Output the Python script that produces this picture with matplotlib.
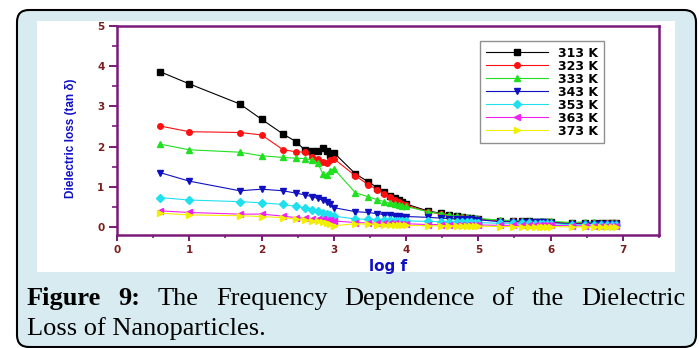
import matplotlib
matplotlib.use("Agg")
import matplotlib.pyplot as plt
from matplotlib.patches import FancyBboxPatch, Rectangle
from matplotlib.transforms import IdentityTransform
from matplotlib.ticker import MultipleLocator

# measured frequencies (log10 of f in Hz)
log_f = [0.6, 1.0, 1.7, 2.0, 2.3, 2.48, 2.6, 2.7, 2.78, 2.85, 2.9, 2.95, 3.0,
         3.3, 3.48, 3.6, 3.7, 3.78, 3.85, 3.9, 3.95, 4.0,
         4.3, 4.48, 4.6, 4.7, 4.78, 4.85, 4.9, 4.95, 5.0,
         5.3, 5.48, 5.6, 5.7, 5.78, 5.85, 5.9, 5.95, 6.0,
         6.3, 6.48, 6.6, 6.7, 6.78, 6.85, 6.9]

# tan delta for each temperature
tan_313 = [3.86, 3.56, 3.06, 2.68, 2.31, 2.12, 1.91, 1.90, 1.89, 1.96, 1.90, 1.78, 1.85,
           1.32, 1.12, 0.98, 0.86, 0.78, 0.71, 0.66, 0.61, 0.57,
           0.40, 0.34, 0.30, 0.27, 0.25, 0.23, 0.22, 0.21, 0.20,
           0.16, 0.15, 0.14, 0.14, 0.13, 0.13, 0.12, 0.12, 0.12,
           0.09, 0.10, 0.10, 0.09, 0.09, 0.10, 0.10]
tan_323 = [2.51, 2.37, 2.35, 2.29, 1.92, 1.87, 1.86, 1.74, 1.70, 1.62, 1.60, 1.66, 1.70,
           1.27, 1.05, 0.93, 0.82, 0.74, 0.67, 0.62, 0.58, 0.54,
           0.38, 0.32, 0.28, 0.26, 0.24, 0.22, 0.21, 0.20, 0.19,
           0.15, 0.14, 0.14, 0.13, 0.13, 0.12, 0.12, 0.11, 0.11,
           0.09, 0.09, 0.09, 0.08, 0.09, 0.09, 0.09]
tan_333 = [2.06, 1.92, 1.86, 1.77, 1.73, 1.71, 1.70, 1.67, 1.58, 1.32, 1.30, 1.40, 1.45,
           0.85, 0.75, 0.68, 0.63, 0.59, 0.56, 0.54, 0.52, 0.51,
           0.38, 0.33, 0.30, 0.27, 0.26, 0.24, 0.23, 0.22, 0.21,
           0.17, 0.16, 0.16, 0.15, 0.15, 0.15, 0.14, 0.14, 0.14,
           0.11, 0.13, 0.12, 0.11, 0.11, 0.11, 0.11]
tan_343 = [1.35, 1.14, 0.90, 0.94, 0.90, 0.84, 0.80, 0.75, 0.71, 0.66, 0.62, 0.58, 0.48,
           0.38, 0.36, 0.33, 0.31, 0.29, 0.28, 0.27, 0.26, 0.26,
           0.24, 0.22, 0.21, 0.20, 0.20, 0.19, 0.19, 0.18, 0.18,
           0.13, 0.13, 0.12, 0.12, 0.12, 0.12, 0.12, 0.11, 0.11,
           0.07, 0.08, 0.08, 0.08, 0.08, 0.08, 0.08]
tan_353 = [0.73, 0.67, 0.63, 0.60, 0.56, 0.51, 0.47, 0.43, 0.39, 0.35, 0.32, 0.29, 0.27,
           0.20, 0.19, 0.18, 0.17, 0.17, 0.16, 0.16, 0.15, 0.15,
           0.14, 0.13, 0.13, 0.12, 0.12, 0.12, 0.12, 0.11, 0.11,
           0.09, 0.09, 0.09, 0.09, 0.08, 0.08, 0.08, 0.08, 0.08,
           0.06, 0.06, 0.06, 0.06, 0.06, 0.06, 0.06]
tan_363 = [0.40, 0.36, 0.32, 0.32, 0.27, 0.23, 0.22, 0.21, 0.20, 0.19, 0.18, 0.17, 0.15,
           0.11, 0.10, 0.10, 0.09, 0.09, 0.09, 0.08, 0.08, 0.08,
           0.06, 0.06, 0.06, 0.05, 0.05, 0.05, 0.05, 0.05, 0.05,
           0.04, 0.04, 0.04, 0.04, 0.04, 0.04, 0.04, 0.04, 0.04,
           0.03, 0.03, 0.03, 0.03, 0.03, 0.03, 0.03]
tan_373 = [0.34, 0.30, 0.28, 0.26, 0.23, 0.19, 0.17, 0.16, 0.14, 0.12, 0.10, 0.07, 0.03,
           0.08, 0.07, 0.06, 0.06, 0.05, 0.05, 0.05, 0.05, 0.04,
           0.03, 0.03, 0.03, 0.03, 0.02, 0.02, 0.02, 0.02, 0.02,
           0.01, 0.01, 0.01, 0.01, 0.01, 0.01, 0.01, 0.01, 0.01,
           0.00, 0.00, 0.00, 0.00, 0.00, 0.00, 0.00]

labels = ["313 K", "323 K", "333 K", "343 K", "353 K", "363 K", "373 K"]
series = [tan_313, tan_323, tan_333, tan_343, tan_353, tan_363, tan_373]
colors = ["#000000", "#ff1010", "#20e020", "#1010c0", "#20e0f0", "#f020f0", "#f0f000"]
markers = ["s", "o", "^", "v", "D", "<", ">"]

W, H = 699, 348
fig = plt.figure(figsize=(W / 100, H / 100), dpi=100)
fig.patch.set_facecolor("white")

# caption panel and white plot card, in pixel units
panel = FancyBboxPatch((17, 1), 679, 337, boxstyle="round,pad=0,rounding_size=12",
                       transform=IdentityTransform(), facecolor="#d7ebf0",
                       edgecolor="black", linewidth=1.5, zorder=-2)
fig.add_artist(panel)
card = Rectangle((37, H - 272), 638, 251, transform=IdentityTransform(),
                 facecolor="white", edgecolor="none", zorder=-1)
fig.add_artist(card)

ax = fig.add_axes([117 / W, 1 - 235 / H, (659 - 117) / W, (235 - 26) / H])
ax.set_facecolor("white")

for vals, lab, c, m in zip(series, labels, colors, markers):
    ax.plot(log_f, vals, color=c, marker=m, markersize=4, linewidth=0.8, label=lab)

ax.set_xlim(0, 7.5)
ax.set_ylim(-0.2, 5)
ax.xaxis.set_major_locator(MultipleLocator(1))
ax.xaxis.set_minor_locator(MultipleLocator(0.5))
ax.yaxis.set_major_locator(MultipleLocator(1))
ax.yaxis.set_minor_locator(MultipleLocator(0.5))
ax.set_xticks(range(0, 8))
ax.set_yticks(range(0, 6))

purple = "#7a1a7a"
for s in ax.spines.values():
    s.set_color(purple)
    s.set_linewidth(1.8)

ax.tick_params(axis="y", which="major", direction="out", length=6, width=1.4,
               color=purple, pad=3, labelsize=7.5, labelcolor="#7a1f1f")
ax.tick_params(axis="y", which="minor", direction="out", length=3.5, width=1.2, color=purple)
ax.tick_params(axis="x", which="major", direction="out", length=4, width=1.4,
               color=purple, pad=3, labelsize=7.5, labelcolor="#7a1f1f")
ax.tick_params(axis="x", which="minor", direction="out", length=2.5, width=1.2, color=purple)
for t in ax.get_xticklabels() + ax.get_yticklabels():
    t.set_fontweight("bold")

fig.text(71 / W, 1 - 138 / H, "Dielectric loss (tan δ)", rotation=90, ha="center",
         va="center", color="#1010c8", fontsize=8.5, fontweight="bold",
         family="Liberation Sans")
fig.text(388 / W, 1 - 266 / H, "log f", ha="center", va="center", color="#1010c8",
         fontsize=11, fontweight="bold")

leg = ax.legend(loc="upper left", bbox_to_anchor=((480 - 117) / 542, 1 - (41 - 26) / 209),
                borderaxespad=0, fancybox=False, framealpha=1, edgecolor="#909090",
                prop={"weight": "bold", "size": 9}, handlelength=5.0,
                handletextpad=0.8, labelspacing=0.0, borderpad=0.45)
leg.get_frame().set_linewidth(1.0)

# caption, first line justified across the panel
renderer = fig.canvas.get_renderer()
cap_font = dict(family="Liberation Serif", fontsize=19, color="black")
words = [("Figure", "bold"), ("9:", "bold"), ("The", "normal"), ("Frequency", "normal"),
         ("Dependence", "normal"), ("of", "normal"), ("the", "normal"),
         ("Dielectric", "normal")]
x_left, x_right, base1 = 27, 685, H - 305
texts = [fig.text(0, base1 / H, w, fontweight=fw, va="baseline", ha="left", **cap_font)
         for w, fw in words]
widths = [t.get_window_extent(renderer).width for t in texts]
gap = (x_right - x_left - sum(widths)) / (len(words) - 1)
x = x_left
for t, w in zip(texts, widths):
    t.set_x(x / W)
    x += w + gap
fig.text(x_left / W, (H - 335) / H, "Loss of Nanoparticles.", va="baseline",
         ha="left", **cap_font)

fig.savefig("out.png", dpi=100)
